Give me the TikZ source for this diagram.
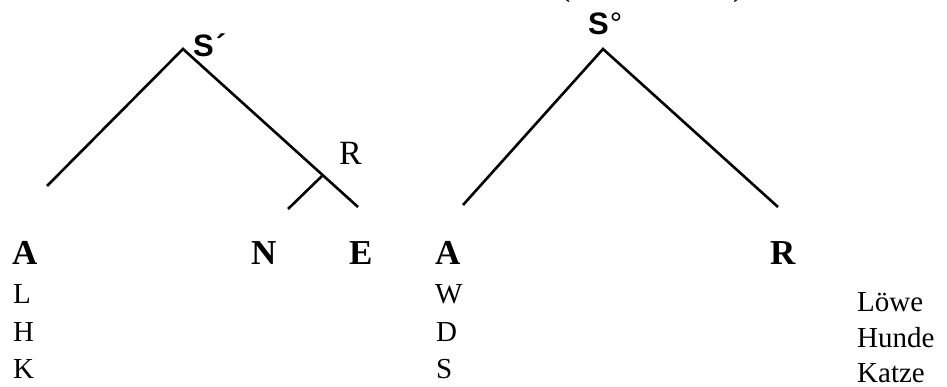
\documentclass[tikz,border=0pt]{standalone}
\usepackage{fontspec}
\setmainfont{Liberation Serif}
\newfontfamily\arialfont{Liberation Sans}
\begin{document}
\begin{tikzpicture}[x=1pt,y=-1pt,
  branch/.style={line width=2.6pt},
  bigbold/.style={anchor=base west,inner sep=0pt,font=\fontsize{35}{40}\selectfont\bfseries},
  bigreg/.style={anchor=base west,inner sep=0pt,font=\fontsize{34}{40}\selectfont},
  small/.style={anchor=base west,inner sep=0pt,font=\fontsize{29}{34}\selectfont},
  rootlab/.style={anchor=base west,inner sep=0pt,font=\fontsize{31}{36}\selectfont\arialfont\bfseries}]
\useasboundingbox (0,0) rectangle (947,387);
\clip (0,0) rectangle (947,387);
% parentheses cut off at the top edge
\node[bigreg] (lp) at (559,-4) {(};
\node[bigreg] (rp) at (733,-4) {)};
% left tree
\coordinate (la) at (183,49);
\coordinate (ll) at (47,186);
\coordinate (lr) at (358,207);
\coordinate (lb) at (322,176);
\coordinate (lbe) at (288,209);
\draw[branch] (ll) -- (la) -- (lr);
\draw[branch] (lb) -- (lbe);
\node[rootlab] (s1) at (193,57) {S\kern2pt\textasciiacute};
\node[bigreg] (r1) at (339,165) {R};
% right tree
\coordinate (ra) at (603,49);
\coordinate (rl) at (463,205);
\coordinate (rr) at (778,207);
\draw[branch] (rl) -- (ra) -- (rr);
\node[rootlab] (s2) at (588,35) {S\kern1pt{\mdseries °}};
% leaf labels
\node[bigbold] (a1) at (12,265) {A};
\node[bigbold] (n1) at (251,265) {N};
\node[bigbold] (e1) at (349,265) {E};
\node[bigbold] (a2) at (435,265) {A};
\node[bigbold] (r2) at (770,265) {R};
% lists
\node[small] (l1) at (13,303) {L};
\node[small] (h1) at (13,341) {H};
\node[small] (k1) at (13,378) {K};
\node[small] (w2) at (435,303) {W};
\node[small] (d2) at (436,341) {D};
\node[small] (s3) at (436,378) {S};
\node[small] (lo) at (857,311) {Löwe};
\node[small] (hu) at (857,347) {Hunde};
\node[small] (ka) at (857,382) {Katze};
\end{tikzpicture}
\end{document}
